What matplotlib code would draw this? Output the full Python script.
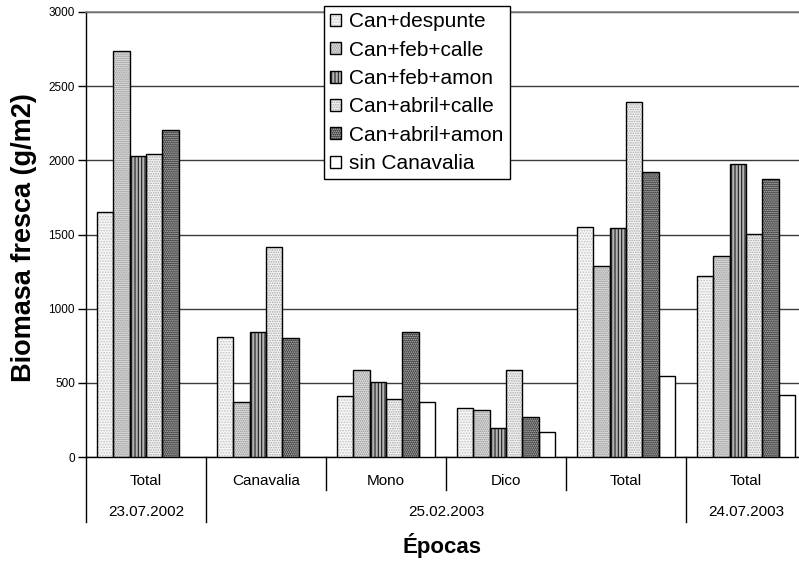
import matplotlib
matplotlib.use("Agg")
import matplotlib.pyplot as plt
import matplotlib.transforms as mtransforms
from matplotlib.legend_handler import HandlerTuple
import numpy as np

plt.rcParams['font.family'] = ['Liberation Sans', 'DejaVu Sans']
plt.rcParams['hatch.linewidth'] = 0.8

# Data: fresh biomass (g/m2) by treatment and sampling period
categories = ["Total", "Canavalia", "Mono", "Dico", "Total", "Total"]
dates = ["23.07.2002", "25.02.2003", "24.07.2003"]
date_spans = [(0, 0), (1, 4), (5, 5)]
series_names = ["Can+despunte", "Can+feb+calle", "Can+feb+amon",
                "Can+abril+calle", "Can+abril+amon", "sin Canavalia"]

can_despunte = [1650, 807, 411, 330, 1553, 1220]
can_feb_calle = [2740, 373, 584, 317, 1286, 1355]
can_feb_amon = [2032, 841, 503, 193, 1542, 1975]
can_abril_calle = [2045, 1418, 391, 584, 2393, 1506]
can_abril_amon = [2202, 804, 841, 272, 1921, 1872]
sin_canavalia = [0, 0, 373, 171, 546, 416]

series = [can_despunte, can_feb_calle, can_feb_amon,
          can_abril_calle, can_abril_amon, sin_canavalia]

# fill / hatch / hatch colour for each treatment
styles = [
    dict(face='#f6f6f6', hatch='......', hcolor='#c4c4c4'),
    dict(face='#e2e2e2', hatch='........', hcolor='#8c8c8c'),
    dict(face='#b4b4b4', hatch='|||||', hcolor='#202020'),
    dict(face='#f4f4f4', hatch='.......', hcolor='#a8a8a8'),
    dict(face='#3a3a3a', hatch='........', hcolor='#c8c8c8'),
    dict(face='#ffffff', hatch=None, hcolor='#ffffff'),
]

W, H = 799, 561
fig = plt.figure(figsize=(W / 100, H / 100), dpi=100)
ax = fig.add_axes([86 / W, (H - 457) / H, 720 / W, 445 / H])

x = np.arange(len(categories))
bw = 0.136
handles = []
for k, (vals, st) in enumerate(zip(series, styles)):
    pos = x + (k - 2.5) * bw
    vals = np.asarray(vals, dtype=float)
    mask = vals > 0
    fill = ax.bar(pos[mask], vals[mask], bw, color=st['face'], hatch=st['hatch'],
                  edgecolor=st['hcolor'], linewidth=0, zorder=3)
    outline = ax.bar(pos[mask], vals[mask], bw, facecolor='none',
                     edgecolor='black', linewidth=1.0, zorder=4)
    handles.append((fill.patches[0], outline.patches[0]))

ax.set_xlim(-0.5, len(categories) - 0.5)
ax.set_ylim(0, 3000)
ax.set_yticks(np.arange(0, 3001, 500))
ax.tick_params(axis='y', direction='out', length=6, width=1, labelsize=8.5, pad=2)
ax.set_xticks([])
ax.yaxis.grid(True, color='#3c3c3c', linewidth=1.0, zorder=0)
ax.set_axisbelow(True)

ax.spines['right'].set_visible(False)
ax.spines['top'].set_color('#808080')
ax.spines['top'].set_linewidth(1.2)
ax.spines['left'].set_linewidth(1.0)
ax.spines['bottom'].set_linewidth(1.0)

# two-level category axis
trans = mtransforms.blended_transform_factory(ax.transData, ax.transAxes)
px = 1 / 445.0
inner_bottom = -33 * px
outer_bottom = -65 * px

outer_edges = set()
for a, b in date_spans:
    outer_edges.add(a - 0.5)
    outer_edges.add(b + 0.5)
for e in np.arange(-0.5, len(categories), 1.0):
    yb = outer_bottom if e in outer_edges else inner_bottom
    ax.plot([e, e], [0, yb], transform=trans, color='black', linewidth=1.0,
            clip_on=False, zorder=5)

for i, lab in enumerate(categories):
    ax.text(i, -24 * px, lab, transform=trans, ha='center', va='center', fontsize=11)
for (a, b), d in zip(date_spans, dates):
    ax.text((a + b) / 2, -55 * px, d, transform=trans, ha='center', va='center',
            fontsize=11)

fig.text(24 / W, 1 - 238 / H, "Biomasa fresca (g/m2)", rotation=90, ha='center',
         va='center', fontsize=19.5, fontweight='bold')
fig.text(442 / W, 1 - 545 / H, "Épocas", ha='center', va='center', fontsize=16,
         fontweight='bold')

leg = fig.legend(handles, series_names,
                 handler_map={tuple: HandlerTuple(ndivide=1, pad=0)},
                 loc='upper left', bbox_to_anchor=(324 / W, 1 - 6 / H),
                 borderaxespad=0, fontsize=15, frameon=True, fancybox=False,
                 edgecolor='black', framealpha=1, handlelength=0.5,
                 handleheight=0.5, handletextpad=0.4, labelspacing=0.45,
                 borderpad=0.3)
leg.get_frame().set_linewidth(1.0)
leg.set_zorder(10)

fig.savefig("out.png", dpi=100)
